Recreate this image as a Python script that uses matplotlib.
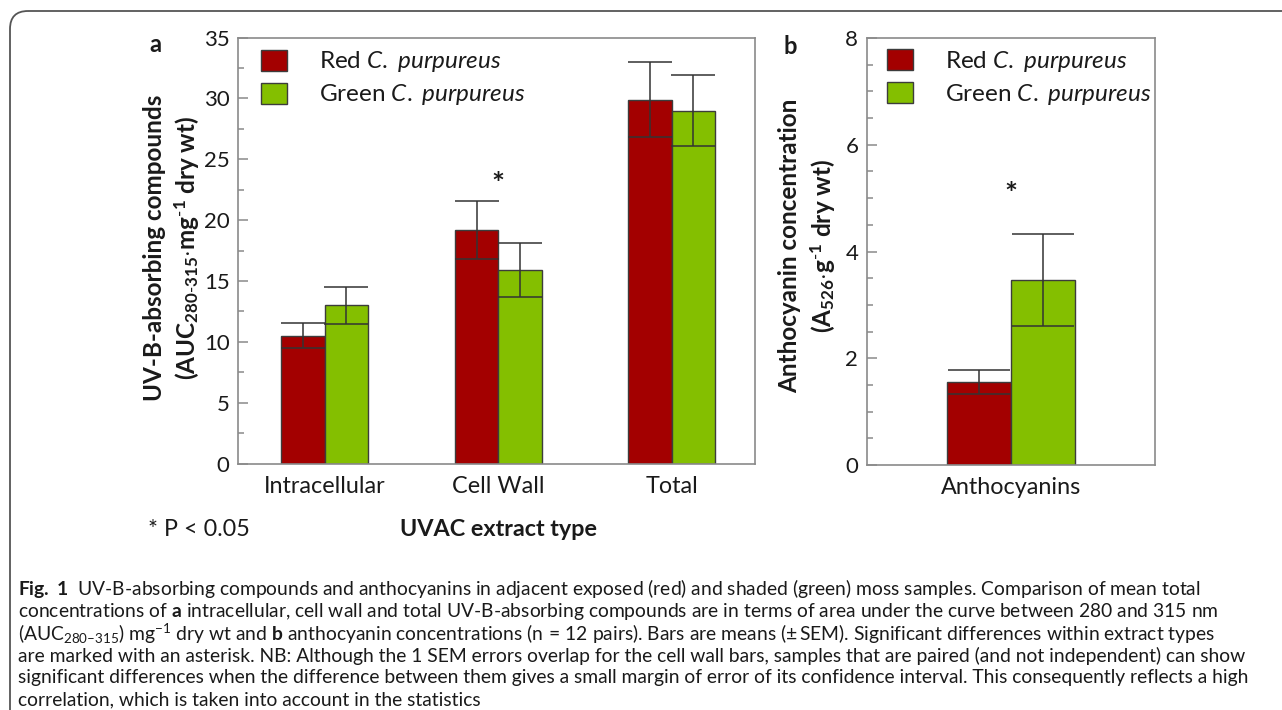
import matplotlib
matplotlib.use("Agg")
import matplotlib.pyplot as plt
from matplotlib.patches import Patch, FancyBboxPatch
from matplotlib.ticker import MultipleLocator
import numpy as np

plt.rcParams["font.family"] = ["Lato", "DejaVu Sans"]
plt.rcParams["mathtext.fontset"] = "custom"
plt.rcParams["mathtext.rm"] = "Lato"
plt.rcParams["mathtext.it"] = "Lato:italic"
plt.rcParams["mathtext.bf"] = "Lato:bold"

# data, panel a
extract_types = ["Intracellular", "Cell Wall", "Total"]
red_uvac = [10.5, 19.2, 29.9]
red_uvac_sem = [1.05, 2.37, 3.05]
green_uvac = [13.0, 15.9, 29.0]
green_uvac_sem = [1.5, 2.25, 2.95]
uvac_signif = [False, True, False]

# data, panel b
antho_labels = ["Anthocyanins"]
red_antho = [1.55]
red_antho_sem = [0.225]
green_antho = [3.47]
green_antho_sem = [0.86]
antho_signif = [True]

RED = "#a30000"
GREEN = "#84bf00"
EDGE = "#3c3c3c"
SPINE = "#8a8a8a"
TXT = "#1a1a1a"
W, H = 1282, 710

fig = plt.figure(figsize=(W / 100, H / 100), dpi=100)

# background axes in pixel coordinates for frame and free text
bg = fig.add_axes([0, 0, 1, 1], zorder=0)
bg.set_xlim(0, W)
bg.set_ylim(H, 0)
bg.axis("off")
frame = FancyBboxPatch((10, 11), 1400, 800, boxstyle="round,pad=0,rounding_size=18",
                       facecolor="none", edgecolor="#555555", linewidth=1.3)
bg.add_patch(frame)


def px_axes(x0, y0, x1, y1):
    return fig.add_axes([x0 / W, 1 - y1 / H, (x1 - x0) / W, (y1 - y0) / H], zorder=2)


def style_axes(ax):
    for s in ax.spines.values():
        s.set_color(SPINE)
        s.set_linewidth(1.2)
    ax.tick_params(axis="y", which="major", direction="in", length=7.5, width=1.1,
                   color=SPINE, labelsize=16, labelcolor=TXT, pad=6)
    ax.tick_params(axis="y", which="minor", direction="in", length=4.3, width=1.1, color=SPINE)
    ax.tick_params(axis="x", length=0, labelsize=16.8, labelcolor=TXT, pad=9)


def draw_bars(ax, red, red_err, green, green_err, width, cap):
    x = np.arange(len(red))
    ekw = dict(ecolor="#333333", elinewidth=1.1, capthick=1.1)
    ax.bar(x - width / 2, red, width, color=RED, edgecolor=EDGE, linewidth=1.0,
           yerr=red_err, capsize=cap, error_kw=ekw, zorder=2)
    ax.bar(x + width / 2, green, width, color=GREEN, edgecolor=EDGE, linewidth=1.0,
           yerr=green_err, capsize=cap, error_kw=ekw, zorder=2)
    return x


def add_legend(ax, x0, y0):
    handles = [Patch(facecolor=RED, edgecolor=EDGE, linewidth=1.0),
               Patch(facecolor=GREEN, edgecolor=EDGE, linewidth=1.0)]
    labels = [r"Red $\mathit{C.}$ $\mathit{purpureus}$",
              r"Green $\mathit{C.}$ $\mathit{purpureus}$"]
    ax.legend(handles, labels, loc="upper left", bbox_to_anchor=(x0, y0), frameon=False,
              fontsize=17.5, handlelength=1.1, handleheight=0.95, handletextpad=1.3,
              labelspacing=0.33, borderpad=0, borderaxespad=0, labelcolor=TXT)


# panel a
ax1 = px_axes(238, 37.5, 755, 463.5)
x1 = draw_bars(ax1, red_uvac, red_uvac_sem, green_uvac, green_uvac_sem, 0.25, 16)
ax1.set_xlim(-0.5, 2.48)
ax1.set_ylim(0, 35)
ax1.yaxis.set_major_locator(MultipleLocator(5))
ax1.yaxis.set_minor_locator(MultipleLocator(2.5))
ax1.set_xticks(x1)
ax1.set_xticklabels(extract_types)
style_axes(ax1)
for xi, s in zip(x1, uvac_signif):
    if s:
        ax1.text(xi, 22.9, "*", ha="center", va="center", fontsize=22,
                 fontweight="bold", color=TXT)
add_legend(ax1, 0.044, 0.972)

# panel b
ax2 = px_axes(866.7, 38, 1155, 465)
x2 = draw_bars(ax2, red_antho, red_antho_sem, green_antho, green_antho_sem, 0.222, 22.5)
ax2.set_xlim(-0.5, 0.5)
ax2.set_ylim(0, 8)
ax2.yaxis.set_major_locator(MultipleLocator(2))
ax2.yaxis.set_minor_locator(MultipleLocator(0.5))
ax2.set_xticks(x2)
ax2.set_xticklabels(antho_labels)
style_axes(ax2)
for xi, s in zip(x2, antho_signif):
    if s:
        ax2.text(xi, 5.05, "*", ha="center", va="center", fontsize=22,
                 fontweight="bold", color=TXT)
add_legend(ax2, 0.069, 0.974)

# labels in pixel space
bg.text(155, 45, "a", fontsize=17, fontweight="bold", ha="center", va="center", color=TXT)
bg.text(790, 47, "b", fontsize=17, fontweight="bold", ha="center", va="center", color=TXT)
bg.text(172, 248, "UV-B-absorbing compounds\n"
        r"(AUC$_{\mathbf{280\text{-}315}}$$\mathbf{\cdot}$mg$^{\mathbf{\text{-}1}}$ dry wt)",
        rotation=90, ha="center", va="center", fontsize=17.5, fontweight="bold",
        linespacing=1.3, multialignment="center", color=TXT)
bg.text(808, 246, "Anthocyanin concentration\n"
        r"(A$_{\mathbf{526}}$$\mathbf{\cdot}$g$^{\mathbf{\text{-}1}}$ dry wt)",
        rotation=90, ha="center", va="center", fontsize=17.5, fontweight="bold",
        linespacing=1.3, multialignment="center", color=TXT)
bg.text(148, 530, "* P < 0.05", fontsize=16.8, ha="left", va="center", color=TXT)
bg.text(498, 530, "UVAC extract type", fontsize=16.8, fontweight="bold", ha="center",
        va="center", color=TXT)

caption = [
    r"$\mathbf{Fig.\ 1}$  UV-B-absorbing compounds and anthocyanins in adjacent exposed (red) and shaded (green) moss samples. Comparison of mean total",
    r"concentrations of $\mathbf{a}$ intracellular, cell wall and total UV-B-absorbing compounds are in terms of area under the curve between 280 and 315 nm",
    r"(AUC$_{280\text{–}315}$) mg$^{-1}$ dry wt and $\mathbf{b}$ anthocyanin concentrations (n$\,=\,$12 pairs). Bars are means ($\pm\,$SEM). Significant differences within extract types",
    "are marked with an asterisk. NB: Although the 1 SEM errors overlap for the cell wall bars, samples that are paired (and not independent) can show",
    "significant differences when the difference between them gives a small margin of error of its confidence interval. This consequently reflects a high",
    "correlation, which is taken into account in the statistics",
]
for i, line in enumerate(caption):
    bg.text(18, 589 + i * 22.2, line, fontsize=13.9, ha="left", va="center", color=TXT)

fig.savefig("out.png", dpi=100)
